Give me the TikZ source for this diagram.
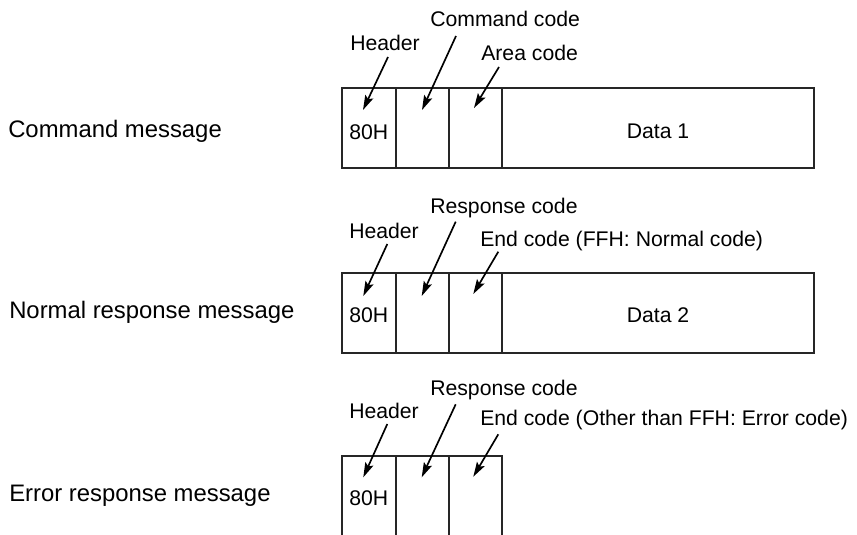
\documentclass[tikz,border=0pt]{standalone}
\usepackage{fontspec}
\setmainfont{Liberation Sans}
\usetikzlibrary{arrows.meta}
\begin{document}
\begin{tikzpicture}[x=0.75pt,y=-0.75pt,
  cellbox/.style={inner sep=0pt, outer sep=0pt, minimum height=60pt, anchor=north west},
  cell/.style={cellbox, draw=black!85, line width=1.3pt},
  lbl/.style={font=\fontsize{15.9}{18}\selectfont, inner sep=0pt, anchor=base west},
  rowlbl/.style={font=\fontsize{17.9}{21}\selectfont, inner sep=0pt, anchor=base west},
  ptr/.style={-{Stealth[length=11pt,width=6.5pt,inset=2pt]}, line width=1.25pt},
  openline/.style={draw=black!85, line width=1.3pt}]
\useasboundingbox (0,0) rectangle (857,535);

% ---------- Row 1: Command message ----------
\node[rowlbl] (r1) at (8,137.5) {Command message};
\node[cell, minimum width=40.5pt]  (h1) at (342,88) {};
\node[cell, minimum width=39.75pt] (c1) at (396,88) {};
\node[cell, minimum width=39.75pt] (a1) at (449,88) {};
\node[cell, minimum width=234pt]   (d1) at (502,88) {};
\node[lbl] (v1) at (349,139) {80H};
\node[lbl, anchor=base] (t1) at (658,138.5) {Data 1};
\node[lbl] (lh1) at (350,50.5) {Header};
\node[lbl] (lc1) at (430,26.5) {Command code};
\node[lbl] (la1) at (481,60.5) {Area code};
\coordinate (sh1) at (388,57);  \coordinate (eh1) at (363,110);
\coordinate (sc1) at (456,36);  \coordinate (ec1) at (422,110);
\coordinate (sa1) at (499,67);  \coordinate (ea1) at (474,108);
\draw[ptr] (sh1) -- (eh1);
\draw[ptr] (sc1) -- (ec1);
\draw[ptr] (sa1) -- (ea1);

% ---------- Row 2: Normal response message ----------
\node[rowlbl] (r2) at (9,318.5) {Normal response message};
\node[cell, minimum width=40.5pt]  (h2) at (342,273) {};
\node[cell, minimum width=39.75pt] (c2) at (396,273) {};
\node[cell, minimum width=39.75pt] (a2) at (449,273) {};
\node[cell, minimum width=234pt]   (d2) at (502,273) {};
\node[lbl] (v2) at (349,322.5) {80H};
\node[lbl, anchor=base] (t2) at (658,322.5) {Data 2};
\node[lbl] (lh2) at (349,238) {Header};
\node[lbl] (lc2) at (430,213) {Response code};
\node[lbl] (la2) at (480,246) {End code (FFH: Normal code)};
\coordinate (sh2) at (387.3,244);   \coordinate (eh2) at (363.3,296);
\coordinate (sc2) at (455.7,221.7); \coordinate (ec2) at (421.7,296);
\coordinate (sa2) at (498.3,251.7); \coordinate (ea2) at (473.3,294);
\draw[ptr] (sh2) -- (eh2);
\draw[ptr] (sc2) -- (ec2);
\draw[ptr] (sa2) -- (ea2);

% ---------- Row 3: Error response message ----------
\node[rowlbl] (r3) at (9,501.7) {Error response message};
\node[cellbox, minimum width=40.5pt]  (h3) at (342,456) {};
\node[cellbox, minimum width=39.75pt] (c3) at (396,456) {};
\node[cellbox, minimum width=39.75pt] (a3) at (449,456) {};
\path[openline] (h3.south west) -- (h3.north west) -- (a3.north east) -- (a3.south east);
\path[openline] (c3.north west) -- (c3.south west);
\path[openline] (c3.north east) -- (c3.south east);
\node[lbl] (v3) at (349,505.7) {80H};
\node[lbl] (lh3) at (349,418.3) {Header};
\node[lbl] (lc3) at (430,395) {Response code};
\node[lbl] (la3) at (480,425) {End code (Other than FFH: Error code)};
\coordinate (sh3) at (387.3,424);   \coordinate (eh3) at (363.3,477.3);
\coordinate (sc3) at (455.7,404.3); \coordinate (ec3) at (421.7,477.3);
\coordinate (sa3) at (498.3,434.3); \coordinate (ea3) at (473.3,476.7);
\draw[ptr] (sh3) -- (eh3);
\draw[ptr] (sc3) -- (ec3);
\draw[ptr] (sa3) -- (ea3);
\end{tikzpicture}
\end{document}
